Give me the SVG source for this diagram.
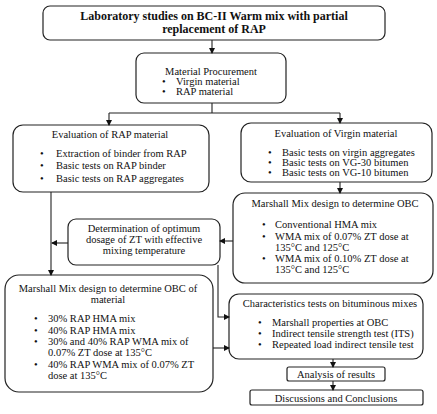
<svg xmlns="http://www.w3.org/2000/svg" width="437" height="414" viewBox="0 0 437 414">
<defs>
<marker id="ah" markerWidth="6" markerHeight="6" refX="5" refY="3" orient="auto" markerUnits="userSpaceOnUse">
<path d="M0,0 L6,3 L0,6 Z" fill="#111"/>
</marker>
<style>
.box{fill:#fff;stroke:#222;stroke-width:1.2}
.t{font-family:"Liberation Serif","Times New Roman",serif;font-size:10.5px;fill:#111}
.c{text-anchor:middle}
.b{font-weight:bold;font-size:12px}
.ln{fill:none;stroke:#222;stroke-width:1.1}
</style>
</defs>
<rect width="437" height="414" fill="#fff"/>
<g id="n-title">
<rect class="box" x="43" y="6" width="342" height="34" rx="7"/>
<text class="t c b" x="214" y="20">Laboratory studies on BC-II Warm mix with partial</text>
<text class="t c b" x="214" y="33">replacement of RAP</text>
</g>
<g id="n-proc">
<rect class="box" x="136" y="53" width="150" height="50" rx="8"/>
<text class="t c" x="211" y="74.5">Material Procurement</text>
<text class="t" x="162" y="84.5">•</text><text class="t" x="176" y="84.5">Virgin material</text>
<text class="t" x="162" y="94.5">•</text><text class="t" x="176" y="94.5">RAP material</text>
</g>
<g id="n-rap">
<rect class="box" x="13" y="125" width="196" height="67" rx="10"/>
<text class="t c" x="110" y="137.5">Evaluation of RAP material</text>
<text class="t" x="40" y="156.5">•</text><text class="t" x="56" y="156.5">Extraction of binder from RAP</text>
<text class="t" x="40" y="169">•</text><text class="t" x="56" y="169">Basic tests on RAP binder</text>
<text class="t" x="40" y="181.5">•</text><text class="t" x="56" y="181.5">Basic tests on RAP aggregates</text>
</g>
<g id="n-virgin">
<rect class="box" x="241" y="123" width="191" height="59" rx="10"/>
<text class="t c" x="336" y="136.5">Evaluation of Virgin material</text>
<text class="t" x="268" y="155.5">•</text><text class="t" x="282" y="155.5">Basic tests on virgin aggregates</text>
<text class="t" x="268" y="165.5">•</text><text class="t" x="282" y="165.5">Basic tests on VG-30 bitumen</text>
<text class="t" x="268" y="175.5">•</text><text class="t" x="282" y="175.5">Basic tests on VG-10 bitumen</text>
</g>
<g id="n-marshall-r">
<rect class="box" x="233" y="193" width="200" height="90" rx="12"/>
<text class="t c" x="335" y="206.5">Marshall Mix design to determine OBC</text>
<text class="t" x="262" y="227.5">•</text><text class="t" x="275" y="227.5">Conventional HMA mix</text>
<text class="t" x="262" y="239.5">•</text><text class="t" x="275" y="239.5">WMA mix of 0.07% ZT dose at</text>
<text class="t" x="275" y="250.5">135°C and 125°C</text>
<text class="t" x="262" y="261.5">•</text><text class="t" x="275" y="261.5">WMA mix of 0.10% ZT dose at</text>
<text class="t" x="275" y="272.5">135°C and 125°C</text>
</g>
<g id="n-zt">
<rect class="box" x="68" y="219" width="152" height="46" rx="8"/>
<text class="t c" x="144" y="231.5">Determination of optimum</text>
<text class="t c" x="144" y="242.5">dosage of ZT with effective</text>
<text class="t c" x="144" y="253.5">mixing temperature</text>
</g>
<g id="n-marshall-l">
<rect class="box" x="5" y="275" width="208" height="117" rx="14"/>
<text class="t c" x="108" y="291.5">Marshall Mix design to determine OBC of</text>
<text class="t c" x="108" y="302.5">material</text>
<text class="t" x="34" y="321.5">•</text><text class="t" x="48" y="321.5">30% RAP HMA mix</text>
<text class="t" x="34" y="333.5">•</text><text class="t" x="48" y="333.5">40% RAP HMA mix</text>
<text class="t" x="34" y="344.5">•</text><text class="t" x="48" y="344.5">30% and 40% RAP WMA mix of</text>
<text class="t" x="48" y="355.5">0.07% ZT dose at 135°C</text>
<text class="t" x="34" y="367.5">•</text><text class="t" x="48" y="367.5">40% RAP WMA mix of 0.07% ZT</text>
<text class="t" x="48" y="378.5">dose at 135°C</text>
</g>
<g id="n-char">
<rect class="box" x="229" y="294" width="194" height="65" rx="10"/>
<text class="t c" x="330" y="306.5">Characteristics tests on bituminous mixes</text>
<text class="t" x="258" y="325.5">•</text><text class="t" x="272" y="325.5">Marshall properties at OBC</text>
<text class="t" x="258" y="336.5">•</text><text class="t" x="272" y="336.5">Indirect tensile strength test (ITS)</text>
<text class="t" x="258" y="347.5">•</text><text class="t" x="272" y="347.5">Repeated load indirect tensile test</text>
</g>
<g id="n-analysis">
<rect class="box" x="287" y="367" width="98" height="14" rx="2"/>
<text class="t c" x="336" y="377.5">Analysis of results</text>
</g>
<g id="n-disc">
<rect class="box" x="250" y="390" width="173" height="15" rx="2"/>
<text class="t c" x="336" y="401.5">Discussions and Conclusions</text>
</g>
<g id="connectors">
<path class="ln" d="M212,40 V53" marker-end="url(#ah)"/>
<path class="ln" d="M212,103 V113 M109,113 H340"/>
<path class="ln" d="M109,113 V125" marker-end="url(#ah)"/>
<path class="ln" d="M340,113 V123" marker-end="url(#ah)"/>
<path class="ln" d="M340,182 V193" marker-end="url(#ah)"/>
<path class="ln" d="M233,241 H220" marker-end="url(#ah)"/>
<path class="ln" d="M51,192 V275" marker-end="url(#ah)"/>
<path class="ln" d="M68,243 H52" marker-end="url(#ah)"/>
<path class="ln" d="M218,265 V317 H229" marker-end="url(#ah)"/>
<path class="ln" d="M213,348 H229" marker-end="url(#ah)"/>
<path class="ln" d="M333,359 V367" marker-end="url(#ah)"/>
<path class="ln" d="M333,381 V390" marker-end="url(#ah)"/>
</g>
</svg>
